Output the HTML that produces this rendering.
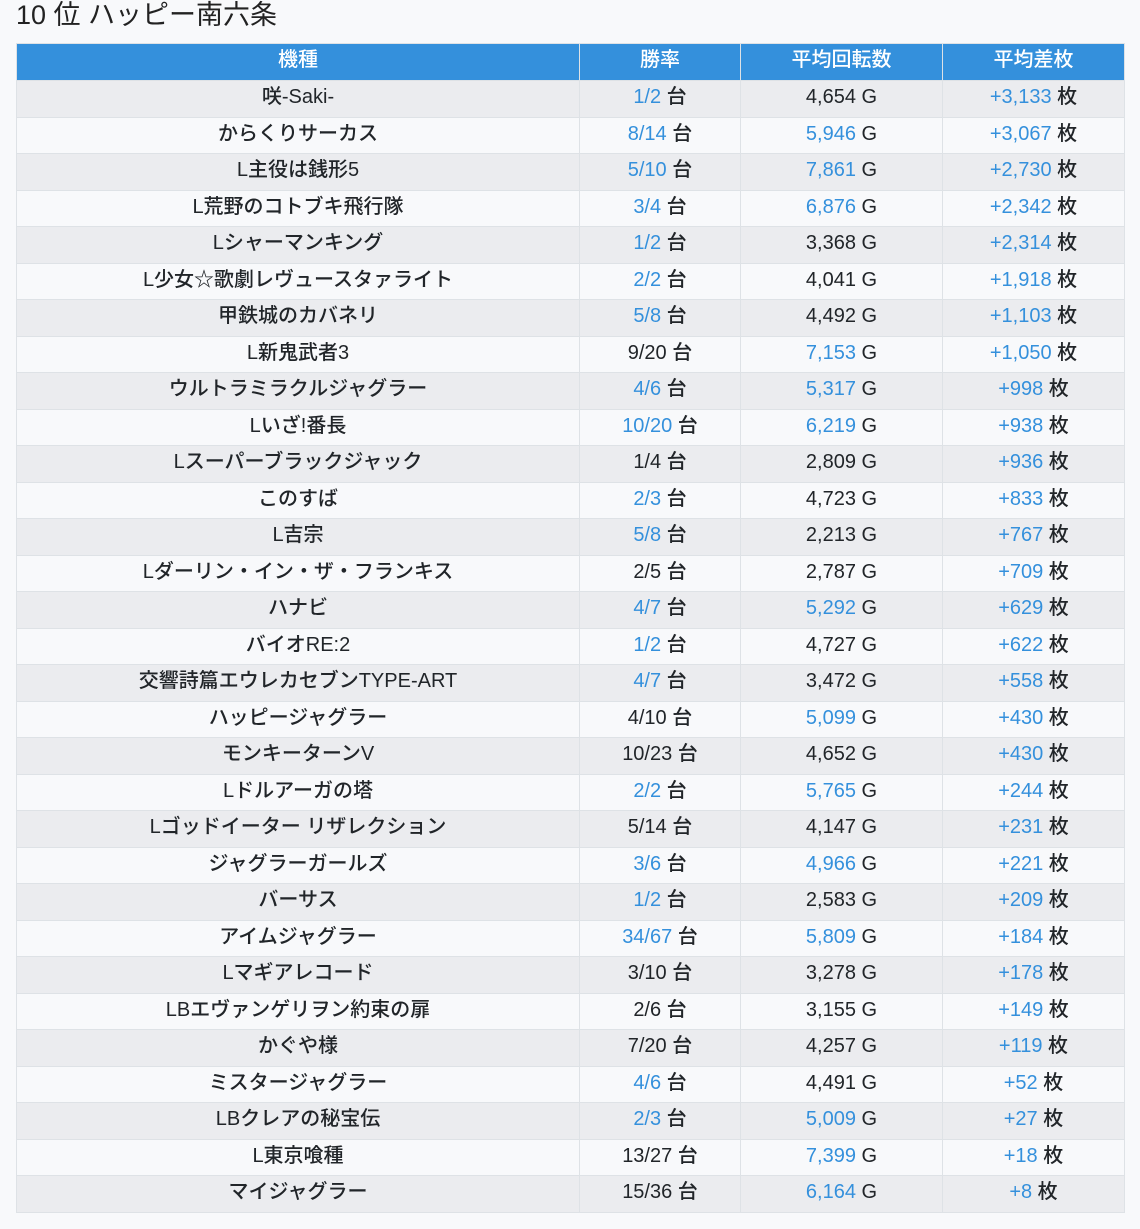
<!DOCTYPE html>
<html><head><meta charset="utf-8"><style>
html,body{margin:0;padding:0;background:#f8f9fb;width:1140px;height:1229px;overflow:hidden}
body{font-family:"Liberation Sans","Noto Sans CJK JP",sans-serif;color:#212529}
h1{position:absolute;left:16px;top:-1px;margin:0;font-weight:400;font-size:27px;line-height:32px;color:#222}
table{position:absolute;left:16px;top:43px;border-collapse:collapse;table-layout:fixed;width:1108px}
th,td{border:1px solid #dee2e6;text-align:center;padding:0 0 3px 0;font-size:20px;font-weight:500;white-space:nowrap;line-height:22px}
th{background:#3490dc;color:#fff;height:32px;border-color:#dee2e6;padding-bottom:4px}
td{height:32.5px}
tr:nth-child(odd) td{background:#ebecef}
.b{color:#3490dc}
</style></head><body>
<h1>10 位 ハッピー南六条</h1>
<table>
<colgroup><col style="width:563px"><col style="width:161px"><col style="width:202px"><col style="width:182px"></colgroup>
<thead><tr><th>機種</th><th>勝率</th><th>平均回転数</th><th>平均差枚</th></tr></thead>
<tbody id="tb"></tbody>
</table>
<script>
var d=[
["咲-Saki-","1/2",1,"4,654",0,"+3,133"],
["からくりサーカス","8/14",1,"5,946",1,"+3,067"],
["L主役は銭形5","5/10",1,"7,861",1,"+2,730"],
["L荒野のコトブキ飛行隊","3/4",1,"6,876",1,"+2,342"],
["Lシャーマンキング","1/2",1,"3,368",0,"+2,314"],
["L少女☆歌劇レヴュースタァライト","2/2",1,"4,041",0,"+1,918"],
["甲鉄城のカバネリ","5/8",1,"4,492",0,"+1,103"],
["L新鬼武者3","9/20",0,"7,153",1,"+1,050"],
["ウルトラミラクルジャグラー","4/6",1,"5,317",1,"+998"],
["Lいざ!番長","10/20",1,"6,219",1,"+938"],
["Lスーパーブラックジャック","1/4",0,"2,809",0,"+936"],
["このすば","2/3",1,"4,723",0,"+833"],
["L吉宗","5/8",1,"2,213",0,"+767"],
["Lダーリン・イン・ザ・フランキス","2/5",0,"2,787",0,"+709"],
["ハナビ","4/7",1,"5,292",1,"+629"],
["バイオRE:2","1/2",1,"4,727",0,"+622"],
["交響詩篇エウレカセブンTYPE-ART","4/7",1,"3,472",0,"+558"],
["ハッピージャグラー","4/10",0,"5,099",1,"+430"],
["モンキーターンV","10/23",0,"4,652",0,"+430"],
["Lドルアーガの塔","2/2",1,"5,765",1,"+244"],
["Lゴッドイーター リザレクション","5/14",0,"4,147",0,"+231"],
["ジャグラーガールズ","3/6",1,"4,966",1,"+221"],
["バーサス","1/2",1,"2,583",0,"+209"],
["アイムジャグラー","34/67",1,"5,809",1,"+184"],
["Lマギアレコード","3/10",0,"3,278",0,"+178"],
["LBエヴァンゲリヲン約束の扉","2/6",0,"3,155",0,"+149"],
["かぐや様","7/20",0,"4,257",0,"+119"],
["ミスタージャグラー","4/6",1,"4,491",0,"+52"],
["LBクレアの秘宝伝","2/3",1,"5,009",1,"+27"],
["L東京喰種","13/27",0,"7,399",1,"+18"],
["マイジャグラー","15/36",0,"6,164",1,"+8"]];
var h="";d.forEach(function(r){h+="<tr><td>"+r[0]+"</td><td><span"+(r[2]?' class="b"':'')+">"+r[1]+"</span> 台</td><td><span"+(r[4]?' class="b"':'')+">"+r[3]+"</span> G</td><td><span class=\"b\">"+r[5]+"</span> 枚</td></tr>";});
document.getElementById("tb").innerHTML=h;
</script>
</body></html>
